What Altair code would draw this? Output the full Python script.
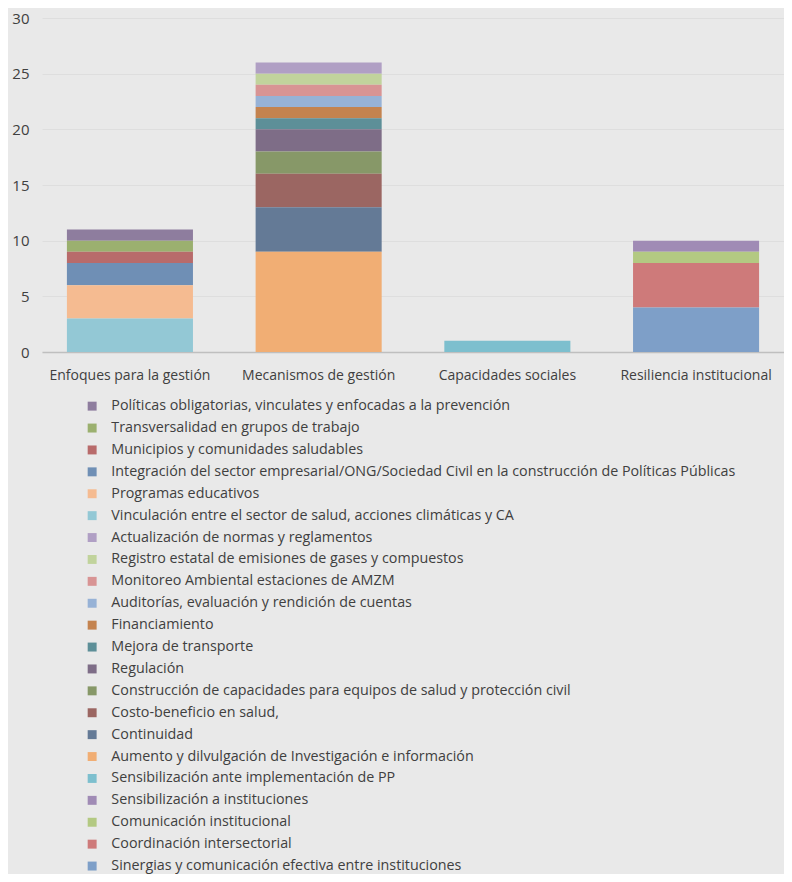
import altair as alt
import pandas as pd

categories = ["Enfoques para la gestión", "Mecanismos de gestión", "Capacidades sociales", "Resiliencia institucional"]

# legend order (top to bottom)
series = [
    "Políticas obligatorias, vinculates y enfocadas a la prevención",
    "Transversalidad en grupos de trabajo",
    "Municipios y comunidades saludables",
    "Integración del sector empresarial/ONG/Sociedad Civil en la construcción de Políticas Públicas",
    "Programas educativos",
    "Vinculación entre el sector de salud, acciones climáticas y CA",
    "Actualización de normas y reglamentos",
    "Registro estatal de emisiones de gases y compuestos",
    "Monitoreo Ambiental estaciones de AMZM",
    "Auditorías, evaluación y rendición de cuentas",
    "Financiamiento",
    "Mejora de transporte",
    "Regulación",
    "Construcción de capacidades para equipos de salud y protección civil",
    "Costo-beneficio en salud,",
    "Continuidad",
    "Aumento y dilvulgación de Investigación e información",
    "Sensibilización ante implementación de PP",
    "Sensibilización a instituciones",
    "Comunicación institucional",
    "Coordinación intersectorial",
    "Sinergias y comunicación efectiva entre  instituciones",
]

series_category = [
    "Enfoques para la gestión"] * 6 + ["Mecanismos de gestión"] * 11 + ["Capacidades sociales"] + ["Resiliencia institucional"] * 4

values = [1, 1, 1, 2, 3, 3,
          1, 1, 1, 1, 1, 1, 2, 2, 3, 4, 9,
          1,
          1, 1, 4, 4]

colors = [
    "#8E7D9E", "#9BB06F", "#B86B6B", "#6F8FB5", "#F5BB91", "#93C8D5",
    "#B09FC4", "#C1D39C", "#D89494", "#97B2D6", "#C4834F", "#5D8F98",
    "#7E6D87", "#879868", "#9B6662", "#647A96", "#F1AE74",
    "#7DBFCE",
    "#A08BB5", "#B3C982", "#CE7A7A", "#7E9FC8",
]

df = pd.DataFrame({
    "categoria": series_category,
    "serie": series,
    "valor": values,
    "orden": [len(series) - i for i in range(len(series))],
})

font = "Open Sans"
text_color = "#404040"

chart = alt.Chart(df).mark_bar(opacity=1).encode(
    x=alt.X("categoria:N", sort=categories, title=None,
            scale=alt.Scale(paddingInner=0.332, paddingOuter=0.132),
            axis=alt.Axis(labelAngle=0, labelFont=font, labelFontSize=14,
                          labelColor=text_color, ticks=False, domainColor="#BFBFBF",
                          domainWidth=1.5, labelPadding=16)),
    y=alt.Y("valor:Q", stack="zero", title=None,
            scale=alt.Scale(domain=[0, 30], nice=False),
            axis=alt.Axis(values=[0, 5, 10, 15, 20, 25, 30], labelFont=font,
                          labelFontSize=15, labelColor=text_color, ticks=False,
                          domain=False, gridColor="#DEDEDE", labelPadding=13)),
    color=alt.Color("serie:N", sort=series,
                    scale=alt.Scale(domain=series, range=colors),
                    legend=alt.Legend(title=None, orient="none", legendX=43, legendY=381,
                                      direction="vertical", symbolType="square",
                                      symbolSize=80, symbolStrokeWidth=0,
                                      labelFont=font, labelFontSize=14.3,
                                      labelColor=text_color, rowPadding=6.9,
                                      labelLimit=720, labelOffset=12)),
    order=alt.Order("orden:Q", sort="ascending"),
).properties(
    width=742,
    height=334,
    background="#E9E9E9",
    padding={"left": 34, "top": 10, "right": 0, "bottom": 522},
    autosize=alt.AutoSizeParams(type="none"),
).configure_view(
    stroke=None,
    fill="#E9E9E9",
)

chart.save("out.html", embed_options={"renderer": "svg", "actions": False})
